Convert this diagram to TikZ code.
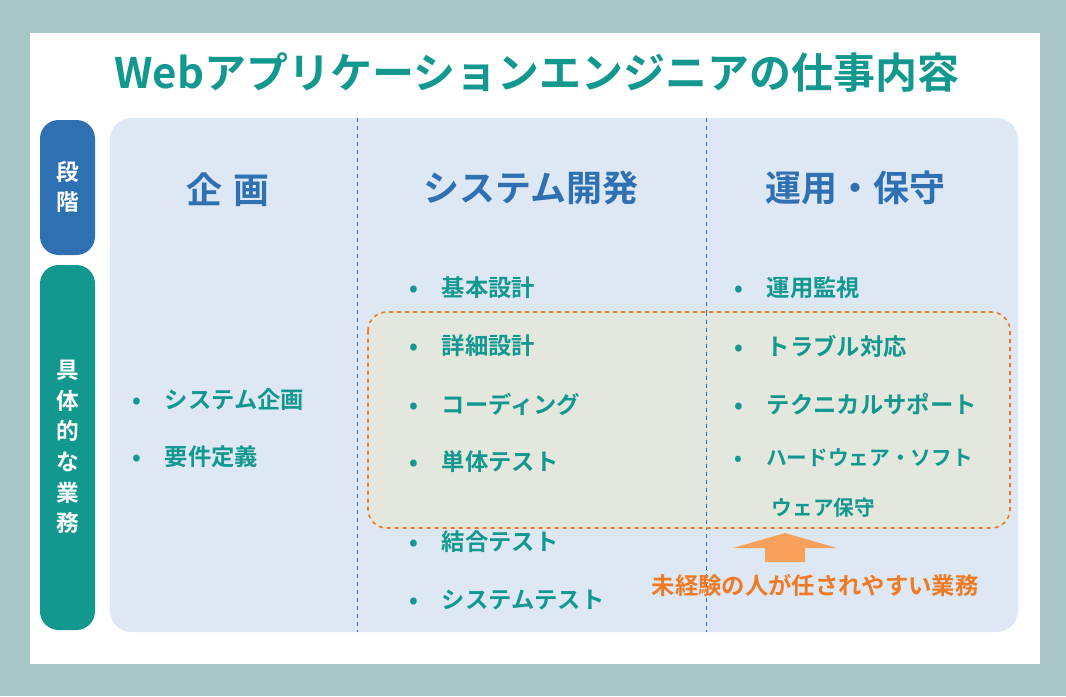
\documentclass[tikz,border=0pt]{standalone}
\usepackage{fontspec}
\setmainfont{Noto Sans CJK JP}[BoldFont={Noto Sans CJK JP Bold}]
\usetikzlibrary{arrows.meta}
\definecolor{frame}{HTML}{A8C6C6}
\definecolor{teal}{HTML}{12988F}
\definecolor{hblue}{HTML}{2E70B2}
\definecolor{panel}{HTML}{DEE8F4}
\definecolor{inner}{HTML}{E5E7D9}
\definecolor{orng}{HTML}{F07A24}
\definecolor{arr}{HTML}{F9A15A}
\tikzset{
 hdr/.style={font=\fontsize{27}{30}\selectfont\bfseries, text=hblue},
 item/.style={anchor=west, font=\fontsize{17.5}{20}\selectfont\bfseries, text=teal},
 pill/.style={rounded corners=14pt, draw=none},
 vtext/.style={text=white, font=\fontsize{17}{23}\selectfont\bfseries, align=center}
}
\newcommand{\bul}[3]{\node[item] (#1) at (#2) {•\hspace{1em}#3};}
\begin{document}
\begin{tikzpicture}[x=0.75pt,y=-0.75pt]
\fill[frame] (0,0) rectangle (1066,696);
\fill[white] (30,33) rectangle (1040,664);
\node[font=\fontsize{31.5}{34}\selectfont\bfseries, text=teal] (title) at (537,73) {Webアプリケーションエンジニアの仕事内容};
\fill[pill, fill=hblue] (40,120) rectangle (95,255);
\node[vtext] (dankai) at (67.5,187) {段\\階};
\fill[pill, fill=teal] (40,265) rectangle (95,630);
\node[vtext] (gyomu) at (67.5,447) {具\\体\\的\\な\\業\\務};
\fill[panel, rounded corners=16pt] (110,118) rectangle (1018,632);
\draw[hblue, dashed, thin] (357,118) -- (357,632);
\draw[hblue, dashed, thin] (706,118) -- (706,632);
\draw[orng, dashed, line width=1.2pt, fill=inner, fill opacity=0.85, rounded corners=14pt] (368,312) rectangle (1010,528);
\draw[hblue, dashed, thin] (706,312) -- (706,528);
\node[hdr] (h1) at (228,190) {企\hspace{0.3em}画};
\node[hdr] (h2) at (531,188) {システム開発};
\node[hdr] (h3) at (855,188) {運用・保守};
\bul{a1}{128,400}{システム企画}
\bul{a2}{128,457}{要件定義}
\bul{b1}{405,288}{基本設計}
\bul{b2}{405,346}{詳細設計}
\bul{b3}{405,404}{コーディング}
\bul{b4}{405,462}{単体テスト}
\bul{b5}{405,542}{結合テスト}
\bul{b6}{405,600}{システムテスト}
\bul{c1}{730,288}{運用監視}
\bul{c2}{730,346}{トラブル対応}
\bul{c3}{730,404}{テクニカルサポート}
\node[item, font=\fontsize{15.5}{18}\selectfont\bfseries] (c4) at (730,458) {•\hspace{1.15em}ハードウェア・ソフト};
\node[item, font=\fontsize{15.5}{18}\selectfont\bfseries] (c5) at (767,508) {ウェア保守};
\node[font=\fontsize{17.5}{20}\selectfont\bfseries, text=orng] (note) at (815,585) {未経験の人が任されやすい業務};
\fill[arr] (733,548) -- (785,533) -- (837,548) -- (805,548) -- (805,562) -- (765,562) -- (765,548) -- cycle;
\end{tikzpicture}
\end{document}
